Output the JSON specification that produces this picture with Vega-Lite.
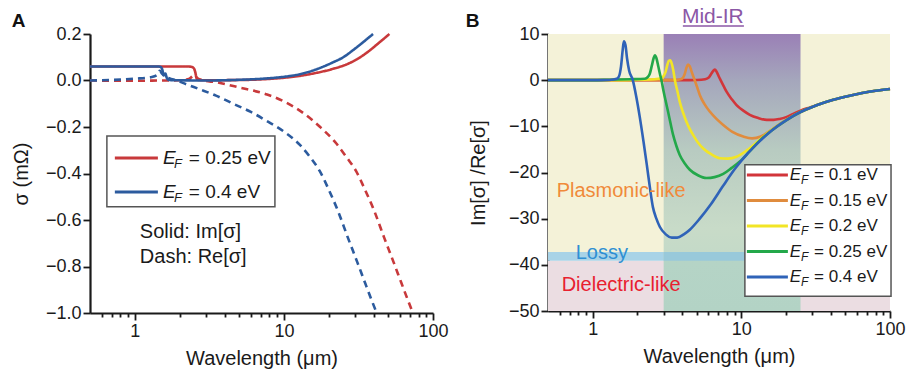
{
"$schema": "https://vega.github.io/schema/vega-lite/v6.json",
"background": "white",
"padding": {"left": 11, "top": 6, "right": 2, "bottom": 2},
"bounds": "flush",
"spacing": 115,
"resolve": {"scale": {"color": "independent"}},
"config": {
  "font": "Liberation Sans",
  "view": {"stroke": null},
  "axis": {"grid": false, "domainColor": "#1a1a1a", "domainWidth": 2.2, "tickColor": "#1a1a1a", "tickWidth": 1.8, "labelFont": "Liberation Sans", "labelFontSize": 18, "labelColor": "#1a1a1a", "titleFont": "Liberation Sans", "titleFontSize": 20, "titleFontWeight": "normal", "titleColor": "#1a1a1a", "labelFlush": false, "labelOverlap": false, "labelPadding": 2}
},
"datasets": {
  "fig_a": [
    {"ef":"0.25","part":"Im","wl":0.5,"s":0.06},{"ef":"0.25","part":"Im","wl":1,"s":0.06},{"ef":"0.25","part":"Im","wl":2,"s":0.06},{"ef":"0.25","part":"Im","wl":2.3,"s":0.06},{"ef":"0.25","part":"Im","wl":2.42,"s":0.058},{"ef":"0.25","part":"Im","wl":2.5,"s":0.05},{"ef":"0.25","part":"Im","wl":2.55,"s":0.032},{"ef":"0.25","part":"Im","wl":2.58,"s":0.016},{"ef":"0.25","part":"Im","wl":2.63,"s":0.003},{"ef":"0.25","part":"Im","wl":3,"s":0.001},{"ef":"0.25","part":"Im","wl":5,"s":0.002},{"ef":"0.25","part":"Im","wl":8,"s":0.007},{"ef":"0.25","part":"Im","wl":12.8,"s":0.02},{"ef":"0.25","part":"Im","wl":16,"s":0.031},{"ef":"0.25","part":"Im","wl":21.3,"s":0.05},{"ef":"0.25","part":"Im","wl":26,"s":0.068},{"ef":"0.25","part":"Im","wl":31,"s":0.092},{"ef":"0.25","part":"Im","wl":36,"s":0.12},{"ef":"0.25","part":"Im","wl":43,"s":0.16},{"ef":"0.25","part":"Im","wl":51,"s":0.2},
    {"ef":"0.25","part":"Re","wl":0.5,"s":0},{"ef":"0.25","part":"Re","wl":1,"s":-0.001},{"ef":"0.25","part":"Re","wl":1.5,"s":0},{"ef":"0.25","part":"Re","wl":2,"s":0.001},{"ef":"0.25","part":"Re","wl":2.3,"s":0.006},{"ef":"0.25","part":"Re","wl":2.45,"s":0.02},{"ef":"0.25","part":"Re","wl":2.52,"s":0.025},{"ef":"0.25","part":"Re","wl":2.6,"s":0.012},{"ef":"0.25","part":"Re","wl":2.8,"s":0.002},{"ef":"0.25","part":"Re","wl":3.55,"s":-0.008},{"ef":"0.25","part":"Re","wl":5,"s":-0.03},{"ef":"0.25","part":"Re","wl":7.7,"s":-0.06},{"ef":"0.25","part":"Re","wl":10,"s":-0.09},{"ef":"0.25","part":"Re","wl":13.5,"s":-0.14},{"ef":"0.25","part":"Re","wl":17.5,"s":-0.2},{"ef":"0.25","part":"Re","wl":22.4,"s":-0.27},{"ef":"0.25","part":"Re","wl":26.3,"s":-0.33},{"ef":"0.25","part":"Re","wl":30.5,"s":-0.39},{"ef":"0.25","part":"Re","wl":35,"s":-0.47},{"ef":"0.25","part":"Re","wl":40.3,"s":-0.56},{"ef":"0.25","part":"Re","wl":47.3,"s":-0.68},{"ef":"0.25","part":"Re","wl":54.3,"s":-0.78},{"ef":"0.25","part":"Re","wl":61.3,"s":-0.87},{"ef":"0.25","part":"Re","wl":67.4,"s":-0.94},{"ef":"0.25","part":"Re","wl":73.3,"s":-1},
    {"ef":"0.4","part":"Im","wl":0.5,"s":0.06},{"ef":"0.4","part":"Im","wl":1,"s":0.06},{"ef":"0.4","part":"Im","wl":1.45,"s":0.06},{"ef":"0.4","part":"Im","wl":1.5,"s":0.057},{"ef":"0.4","part":"Im","wl":1.53,"s":0.045},{"ef":"0.4","part":"Im","wl":1.56,"s":0.022},{"ef":"0.4","part":"Im","wl":1.6,"s":0.03},{"ef":"0.4","part":"Im","wl":1.64,"s":0.01},{"ef":"0.4","part":"Im","wl":1.7,"s":0.002},{"ef":"0.4","part":"Im","wl":2,"s":0.001},{"ef":"0.4","part":"Im","wl":3,"s":0},{"ef":"0.4","part":"Im","wl":5,"s":0.003},{"ef":"0.4","part":"Im","wl":7.7,"s":0.009},{"ef":"0.4","part":"Im","wl":10,"s":0.016},{"ef":"0.4","part":"Im","wl":12.8,"s":0.027},{"ef":"0.4","part":"Im","wl":16,"s":0.045},{"ef":"0.4","part":"Im","wl":21.3,"s":0.078},{"ef":"0.4","part":"Im","wl":25,"s":0.1},{"ef":"0.4","part":"Im","wl":29,"s":0.13},{"ef":"0.4","part":"Im","wl":34,"s":0.165},{"ef":"0.4","part":"Im","wl":39.6,"s":0.2},
    {"ef":"0.4","part":"Re","wl":0.5,"s":0},{"ef":"0.4","part":"Re","wl":0.8,"s":0.004},{"ef":"0.4","part":"Re","wl":1,"s":0.008},{"ef":"0.4","part":"Re","wl":1.3,"s":0.015},{"ef":"0.4","part":"Re","wl":1.42,"s":0.025},{"ef":"0.4","part":"Re","wl":1.47,"s":0.042},{"ef":"0.4","part":"Re","wl":1.52,"s":0.03},{"ef":"0.4","part":"Re","wl":1.6,"s":0.018},{"ef":"0.4","part":"Re","wl":1.7,"s":0.01},{"ef":"0.4","part":"Re","wl":1.91,"s":0},{"ef":"0.4","part":"Re","wl":2.23,"s":-0.017},{"ef":"0.4","part":"Re","wl":2.73,"s":-0.038},{"ef":"0.4","part":"Re","wl":3.5,"s":-0.065},{"ef":"0.4","part":"Re","wl":4.57,"s":-0.1},{"ef":"0.4","part":"Re","wl":6,"s":-0.135},{"ef":"0.4","part":"Re","wl":7.7,"s":-0.175},{"ef":"0.4","part":"Re","wl":10,"s":-0.22},{"ef":"0.4","part":"Re","wl":12.8,"s":-0.277},{"ef":"0.4","part":"Re","wl":15,"s":-0.33},{"ef":"0.4","part":"Re","wl":17.4,"s":-0.39},{"ef":"0.4","part":"Re","wl":20,"s":-0.47},{"ef":"0.4","part":"Re","wl":23,"s":-0.56},{"ef":"0.4","part":"Re","wl":27,"s":-0.68},{"ef":"0.4","part":"Re","wl":31,"s":-0.78},{"ef":"0.4","part":"Re","wl":35,"s":-0.87},{"ef":"0.4","part":"Re","wl":38.5,"s":-0.94},{"ef":"0.4","part":"Re","wl":41.9,"s":-1}
  ],
  "fig_b": [
    {"ef":"0.1","wl":0.5,"r":0},{"ef":"0.1","wl":2,"r":0},{"ef":"0.1","wl":4,"r":0},{"ef":"0.1","wl":5,"r":0.05},{"ef":"0.1","wl":5.7,"r":0.2},{"ef":"0.1","wl":6,"r":0.5},{"ef":"0.1","wl":6.25,"r":1.3},{"ef":"0.1","wl":6.5,"r":2.1},{"ef":"0.1","wl":6.65,"r":2.3},{"ef":"0.1","wl":6.85,"r":1.7},{"ef":"0.1","wl":7.05,"r":0.8},{"ef":"0.1","wl":7.25,"r":0},{"ef":"0.1","wl":7.6,"r":-1.3},{"ef":"0.1","wl":7.95,"r":-2.5},{"ef":"0.1","wl":8.6,"r":-4.1},{"ef":"0.1","wl":9.28,"r":-5.4},{"ef":"0.1","wl":10.3,"r":-6.6},{"ef":"0.1","wl":11.4,"r":-7.5},{"ef":"0.1","wl":13,"r":-8.2},{"ef":"0.1","wl":14.8,"r":-8.6},{"ef":"0.1","wl":16.5,"r":-8.6},{"ef":"0.1","wl":18.1,"r":-8.4},{"ef":"0.1","wl":20,"r":-8},{"ef":"0.1","wl":22.3,"r":-7.3},{"ef":"0.1","wl":25,"r":-6.6},{"ef":"0.1","wl":28.9,"r":-5.9},{"ef":"0.1","wl":35,"r":-5},{"ef":"0.1","wl":40,"r":-4.4},{"ef":"0.1","wl":50,"r":-3.6},{"ef":"0.1","wl":65,"r":-2.8},{"ef":"0.1","wl":80,"r":-2.3},{"ef":"0.1","wl":100,"r":-1.9},
    {"ef":"0.15","wl":0.5,"r":0},{"ef":"0.15","wl":2,"r":0},{"ef":"0.15","wl":3.5,"r":0},{"ef":"0.15","wl":3.9,"r":0.2},{"ef":"0.15","wl":4.06,"r":0.6},{"ef":"0.15","wl":4.18,"r":1.6},{"ef":"0.15","wl":4.28,"r":2.8},{"ef":"0.15","wl":4.38,"r":3.4},{"ef":"0.15","wl":4.5,"r":3},{"ef":"0.15","wl":4.62,"r":1.9},{"ef":"0.15","wl":4.75,"r":0.8},{"ef":"0.15","wl":4.85,"r":0},{"ef":"0.15","wl":5.05,"r":-1.6},{"ef":"0.15","wl":5.25,"r":-3.2},{"ef":"0.15","wl":5.65,"r":-5.2},{"ef":"0.15","wl":6.13,"r":-6.8},{"ef":"0.15","wl":6.8,"r":-8.4},{"ef":"0.15","wl":7.55,"r":-9.7},{"ef":"0.15","wl":8.7,"r":-11.2},{"ef":"0.15","wl":10.3,"r":-12.2},{"ef":"0.15","wl":11.8,"r":-12.6},{"ef":"0.15","wl":13.5,"r":-12.2},{"ef":"0.15","wl":15.2,"r":-11.2},{"ef":"0.15","wl":17.2,"r":-10},{"ef":"0.15","wl":20,"r":-8.6},{"ef":"0.15","wl":25,"r":-6.9},{"ef":"0.15","wl":30,"r":-5.8},{"ef":"0.15","wl":35,"r":-5},{"ef":"0.15","wl":40,"r":-4.4},{"ef":"0.15","wl":50,"r":-3.6},{"ef":"0.15","wl":65,"r":-2.8},{"ef":"0.15","wl":80,"r":-2.3},{"ef":"0.15","wl":100,"r":-1.9},
    {"ef":"0.2","wl":0.5,"r":0},{"ef":"0.2","wl":1.5,"r":0},{"ef":"0.2","wl":2,"r":0.1},{"ef":"0.2","wl":2.6,"r":0.2},{"ef":"0.2","wl":2.9,"r":0.4},{"ef":"0.2","wl":3,"r":0.9},{"ef":"0.2","wl":3.09,"r":1.8},{"ef":"0.2","wl":3.17,"r":3.2},{"ef":"0.2","wl":3.25,"r":4.2},{"ef":"0.2","wl":3.32,"r":4.3},{"ef":"0.2","wl":3.4,"r":3.6},{"ef":"0.2","wl":3.48,"r":2.2},{"ef":"0.2","wl":3.57,"r":0},{"ef":"0.2","wl":3.7,"r":-2.2},{"ef":"0.2","wl":3.85,"r":-4.7},{"ef":"0.2","wl":4.05,"r":-7},{"ef":"0.2","wl":4.27,"r":-9},{"ef":"0.2","wl":4.5,"r":-10.6},{"ef":"0.2","wl":4.74,"r":-11.9},{"ef":"0.2","wl":5.1,"r":-13.5},{"ef":"0.2","wl":5.54,"r":-14.8},{"ef":"0.2","wl":6.3,"r":-16.1},{"ef":"0.2","wl":7.17,"r":-16.9},{"ef":"0.2","wl":8.1,"r":-17},{"ef":"0.2","wl":9.28,"r":-16.6},{"ef":"0.2","wl":11,"r":-15.1},{"ef":"0.2","wl":13.3,"r":-12.9},{"ef":"0.2","wl":15.5,"r":-11.1},{"ef":"0.2","wl":18.1,"r":-9.6},{"ef":"0.2","wl":21,"r":-8.3},{"ef":"0.2","wl":25,"r":-6.9},{"ef":"0.2","wl":30,"r":-5.8},{"ef":"0.2","wl":35,"r":-5},{"ef":"0.2","wl":40,"r":-4.4},{"ef":"0.2","wl":50,"r":-3.6},{"ef":"0.2","wl":65,"r":-2.8},{"ef":"0.2","wl":80,"r":-2.3},{"ef":"0.2","wl":100,"r":-1.9},
    {"ef":"0.25","wl":0.5,"r":0},{"ef":"0.25","wl":1,"r":0},{"ef":"0.25","wl":1.3,"r":0.1},{"ef":"0.25","wl":1.8,"r":0.2},{"ef":"0.25","wl":2.24,"r":0.3},{"ef":"0.25","wl":2.35,"r":0.7},{"ef":"0.25","wl":2.42,"r":1.4},{"ef":"0.25","wl":2.5,"r":3.2},{"ef":"0.25","wl":2.57,"r":4.8},{"ef":"0.25","wl":2.62,"r":5.4},{"ef":"0.25","wl":2.68,"r":4.8},{"ef":"0.25","wl":2.76,"r":3},{"ef":"0.25","wl":2.83,"r":1.4},{"ef":"0.25","wl":2.9,"r":0},{"ef":"0.25","wl":2.97,"r":-1.8},{"ef":"0.25","wl":3.08,"r":-4.2},{"ef":"0.25","wl":3.21,"r":-6.8},{"ef":"0.25","wl":3.34,"r":-9.4},{"ef":"0.25","wl":3.47,"r":-11.8},{"ef":"0.25","wl":3.65,"r":-14.2},{"ef":"0.25","wl":3.85,"r":-16.2},{"ef":"0.25","wl":4.15,"r":-18},{"ef":"0.25","wl":4.5,"r":-19.4},{"ef":"0.25","wl":5.1,"r":-20.6},{"ef":"0.25","wl":5.83,"r":-21.2},{"ef":"0.25","wl":6.6,"r":-21},{"ef":"0.25","wl":7.55,"r":-20.3},{"ef":"0.25","wl":8.6,"r":-19},{"ef":"0.25","wl":9.77,"r":-17.6},{"ef":"0.25","wl":11.3,"r":-15.5},{"ef":"0.25","wl":13.3,"r":-13.1},{"ef":"0.25","wl":16,"r":-10.9},{"ef":"0.25","wl":20,"r":-8.7},{"ef":"0.25","wl":25,"r":-6.9},{"ef":"0.25","wl":30,"r":-5.8},{"ef":"0.25","wl":35,"r":-5},{"ef":"0.25","wl":40,"r":-4.4},{"ef":"0.25","wl":50,"r":-3.6},{"ef":"0.25","wl":65,"r":-2.8},{"ef":"0.25","wl":80,"r":-2.3},{"ef":"0.25","wl":100,"r":-1.9},
    {"ef":"0.4","wl":0.5,"r":0},{"ef":"0.4","wl":1,"r":0},{"ef":"0.4","wl":1.3,"r":0.05},{"ef":"0.4","wl":1.45,"r":0.3},{"ef":"0.4","wl":1.5,"r":0.8},{"ef":"0.4","wl":1.55,"r":3},{"ef":"0.4","wl":1.59,"r":6.5},{"ef":"0.4","wl":1.62,"r":8.4},{"ef":"0.4","wl":1.66,"r":7.6},{"ef":"0.4","wl":1.7,"r":4.8},{"ef":"0.4","wl":1.76,"r":2},{"ef":"0.4","wl":1.86,"r":0},{"ef":"0.4","wl":1.96,"r":-3.5},{"ef":"0.4","wl":2.07,"r":-7.9},{"ef":"0.4","wl":2.2,"r":-13.5},{"ef":"0.4","wl":2.31,"r":-18.3},{"ef":"0.4","wl":2.43,"r":-23.5},{"ef":"0.4","wl":2.54,"r":-27.5},{"ef":"0.4","wl":2.68,"r":-30},{"ef":"0.4","wl":2.83,"r":-31.8},{"ef":"0.4","wl":3.1,"r":-33.4},{"ef":"0.4","wl":3.4,"r":-34.1},{"ef":"0.4","wl":3.7,"r":-34.1},{"ef":"0.4","wl":4.1,"r":-33.4},{"ef":"0.4","wl":4.5,"r":-32.4},{"ef":"0.4","wl":5.25,"r":-30},{"ef":"0.4","wl":6.2,"r":-27},{"ef":"0.4","wl":7.5,"r":-23},{"ef":"0.4","wl":9,"r":-19.3},{"ef":"0.4","wl":11,"r":-15.9},{"ef":"0.4","wl":13.3,"r":-13.2},{"ef":"0.4","wl":16,"r":-10.9},{"ef":"0.4","wl":20,"r":-8.7},{"ef":"0.4","wl":25,"r":-6.9},{"ef":"0.4","wl":30,"r":-5.8},{"ef":"0.4","wl":35,"r":-5},{"ef":"0.4","wl":40,"r":-4.4},{"ef":"0.4","wl":50,"r":-3.6},{"ef":"0.4","wl":65,"r":-2.8},{"ef":"0.4","wl":80,"r":-2.3},{"ef":"0.4","wl":100,"r":-1.9}
  ],
  "leg_a": [{"ef":"0.25","label":"= 0.25 eV"},{"ef":"0.4","label":"= 0.4 eV"}],
  "leg_b": [{"ef":"0.1","label":"= 0.1 eV"},{"ef":"0.15","label":"= 0.15 eV"},{"ef":"0.2","label":"= 0.2 eV"},{"ef":"0.25","label":"= 0.25 eV"},{"ef":"0.4","label":"= 0.4 eV"}]
},
"hconcat": [
 {
  "width": 343, "height": 279,
  "resolve": {"scale": {"y": "independent"}},
  "layer": [
   {"layer": [
     {"data": {"name": "fig_a"},
      "mark": {"type": "line", "strokeWidth": 2.6, "interpolate": "monotone"},
      "encoding": {
        "x": {"field": "wl", "type": "quantitative", "scale": {"type": "log", "domain": [0.5, 100], "nice": false},
              "axis": {"title": "Wavelength (μm)", "titlePadding": 8, "values": [0.6,0.7,0.8,0.9,1,2,3,4,5,6,7,8,9,10,20,30,40,50,60,70,80,90,100], "labelExpr": "datum.value == 1 ? '1' : datum.value == 10 ? '10' : datum.value == 100 ? '100' : ''", "tickSize": {"condition": {"test": "datum.value == 1 || datum.value == 10 || datum.value == 100", "value": 7}, "value": 4}}},
        "y": {"field": "s", "type": "quantitative", "scale": {"domain": [-1, 0.2], "nice": false, "zero": false},
              "axis": {"title": "σ (mΩ)", "titlePadding": 14, "values": [-1,-0.9,-0.8,-0.7,-0.6,-0.5,-0.4,-0.3,-0.2,-0.1,0,0.1,0.2], "labelExpr": "abs(datum.value*5 - round(datum.value*5)) < 0.001 ? (datum.value < -0.001 ? '−' : '') + format(abs(datum.value), '.1f') : ''", "tickSize": {"condition": {"test": "abs(datum.value*5 - round(datum.value*5)) < 0.001", "value": 7}, "value": 4}}},
        "color": {"field": "ef", "type": "nominal", "scale": {"domain": ["0.25", "0.4"], "range": ["#c8393b", "#2c5b9e"]}, "legend": null},
        "strokeDash": {"field": "part", "type": "nominal", "scale": {"domain": ["Im", "Re"], "range": [[1, 0], [7, 5]]}, "legend": null}
      }},
     {"data": {"values": [{"item": "legend frame"}]},
      "mark": {"type": "rect", "fill": "white", "stroke": "#555555", "strokeWidth": 1.5},
      "encoding": {"x": {"datum": 0.649}, "x2": {"datum": 8.7}, "y": {"datum": -0.239}, "y2": {"datum": -0.543}}},
     {"data": {"values": [{"t": "Solid: Im[σ]"}]},
      "mark": {"type": "text", "align": "left", "baseline": "middle", "fontSize": 20, "color": "#1a1a1a"},
      "encoding": {"x": {"datum": 1.08}, "y": {"datum": -0.652}, "text": {"field": "t"}}},
     {"data": {"values": [{"t": "Dash: Re[σ]"}]},
      "mark": {"type": "text", "align": "left", "baseline": "middle", "fontSize": 20, "color": "#1a1a1a"},
      "encoding": {"x": {"datum": 1.08}, "y": {"datum": -0.761}, "text": {"field": "t"}}},
     {"data": {"values": [{"t": "A"}]},
      "mark": {"type": "text", "align": "left", "baseline": "middle", "fontSize": 19, "fontWeight": "bold", "color": "#111111"},
      "encoding": {"x": {"datum": 0.1494}, "y": {"datum": 0.256}, "text": {"field": "t"}}}
   ]},
   {"data": {"name": "leg_a"},
    "encoding": {"y": {"field": "ef", "type": "ordinal", "scale": {"type": "point", "domain": ["0.25", "0.4"], "range": [124, 158], "padding": 0}, "axis": null}},
    "layer": [
     {"mark": {"type": "rule", "strokeWidth": 3}, "encoding": {"x": {"datum": 0.734}, "x2": {"datum": 1.427}, "color": {"field": "ef", "type": "nominal", "legend": null}}},
     {"mark": {"type": "text", "text": "E", "fontStyle": "italic", "fontSize": 19, "align": "left", "baseline": "middle", "color": "#1a1a1a"}, "encoding": {"x": {"datum": 1.542}}},
     {"mark": {"type": "text", "text": "F", "fontStyle": "italic", "fontSize": 13, "align": "left", "baseline": "middle", "dy": 6, "color": "#1a1a1a"}, "encoding": {"x": {"datum": 1.827}}},
     {"mark": {"type": "text", "fontSize": 19, "align": "left", "baseline": "middle", "color": "#1a1a1a"}, "encoding": {"x": {"datum": 2.3}, "text": {"field": "label"}}}
    ]}
  ]
 },
 {
  "width": 342, "height": 277,
  "resolve": {"scale": {"y": "independent"}},
  "layer": [
   {"layer": [
     {"data": {"values": [{"region": "Plasmonic-like"}]},
      "mark": {"type": "rect", "fill": "#f4f2d8"},
      "encoding": {
        "x": {"datum": 0.5, "type": "quantitative", "scale": {"type": "log", "domain": [0.5, 100], "nice": false},
              "axis": {"title": "Wavelength (μm)", "titlePadding": 8, "values": [0.6,0.7,0.8,0.9,1,2,3,4,5,6,7,8,9,10,20,30,40,50,60,70,80,90,100], "labelExpr": "datum.value == 1 ? '1' : datum.value == 10 ? '10' : datum.value == 100 ? '100' : ''", "tickSize": {"condition": {"test": "datum.value == 1 || datum.value == 10 || datum.value == 100", "value": 7}, "value": 4}}},
        "x2": {"datum": 100},
        "y": {"datum": 10, "type": "quantitative", "scale": {"domain": [-50, 10], "nice": false, "zero": false},
              "axis": {"title": "Im[σ] /Re[σ]", "titlePadding": 20, "values": [-50,-45,-40,-35,-30,-25,-20,-15,-10,-5,0,5,10], "labelExpr": "datum.value % 10 == 0 ? (datum.value < 0 ? '−' + abs(datum.value) : '' + datum.value) : ''", "tickSize": {"condition": {"test": "datum.value % 10 == 0", "value": 7}, "value": 4}}},
        "y2": {"datum": -37.2}
      }},
     {"data": {"values": [{"region": "Dielectric-like"}]},
      "mark": {"type": "rect", "fill": "#ebdde2"},
      "encoding": {"x": {"datum": 0.5}, "x2": {"datum": 100}, "y": {"datum": -39.1}, "y2": {"datum": -50}}},
     {"data": {"values": [{"region": "Lossy"}]},
      "mark": {"type": "rect", "fill": "#a8d3e7"},
      "encoding": {"x": {"datum": 0.5}, "x2": {"datum": 100}, "y": {"datum": -37.2}, "y2": {"datum": -39.1}}},
     {"data": {"values": [{"region": "Mid-IR"}]},
      "mark": {"type": "rect", "fill": {"gradient": "linear", "x1": 0, "y1": 0, "x2": 0, "y2": 1, "stops": [{"offset": 0, "color": "#9a80b6"}, {"offset": 0.17, "color": "#a5a7bc"}, {"offset": 0.42, "color": "#b8cbc1"}, {"offset": 0.7, "color": "#c8dbc8"}, {"offset": 0.79, "color": "#c4dac8"}, {"offset": 0.82, "color": "#b5d4c6"}, {"offset": 1, "color": "#b3d3c5"}]}},
      "encoding": {"x": {"datum": 3}, "x2": {"datum": 25}, "y": {"datum": 10}, "y2": {"datum": -50}}},
     {"data": {"values": [{"region": "Lossy, Mid-IR"}]},
      "mark": {"type": "rect", "fill": "#98c9da"},
      "encoding": {"x": {"datum": 3}, "x2": {"datum": 25}, "y": {"datum": -37.2}, "y2": {"datum": -39.1}}},
     {"data": {"name": "fig_b"},
      "mark": {"type": "line", "strokeWidth": 2.6, "interpolate": "monotone"},
      "encoding": {
        "x": {"field": "wl", "type": "quantitative"},
        "y": {"field": "r", "type": "quantitative"},
        "color": {"field": "ef", "type": "nominal", "scale": {"domain": ["0.1", "0.15", "0.2", "0.25", "0.4"], "range": ["#d2353a", "#e08c3e", "#f2e526", "#23a84a", "#2f63b8"]}, "legend": null}
      }},
     {"data": {"values": [{"t": "Plasmonic-like"}]},
      "mark": {"type": "text", "align": "left", "baseline": "middle", "fontSize": 20, "color": "#f08a3a"},
      "encoding": {"x": {"datum": 0.572}, "y": {"datum": -23.9}, "text": {"field": "t"}}},
     {"data": {"values": [{"t": "Lossy"}]},
      "mark": {"type": "text", "align": "left", "baseline": "middle", "fontSize": 20, "color": "#2f8fd3"},
      "encoding": {"x": {"datum": 0.768}, "y": {"datum": -37.5}, "text": {"field": "t"}}},
     {"data": {"values": [{"t": "Dielectric-like"}]},
      "mark": {"type": "text", "align": "left", "baseline": "middle", "fontSize": 20, "color": "#e8202f"},
      "encoding": {"x": {"datum": 0.618}, "y": {"datum": -44.4}, "text": {"field": "t"}}},
     {"data": {"values": [{"t": "Mid-IR"}]},
      "mark": {"type": "text", "align": "center", "baseline": "middle", "fontSize": 21, "color": "#8b57a6"},
      "encoding": {"x": {"datum": 6.43}, "y": {"datum": 13.68}, "text": {"field": "t"}}},
     {"data": {"values": [{"t": "Mid-IR underline"}]},
      "mark": {"type": "rule", "strokeWidth": 1.5, "color": "#8b57a6"},
      "encoding": {"x": {"datum": 4.04}, "x2": {"datum": 10.4}, "y": {"datum": 11.73}}},
     {"data": {"values": [{"t": "B"}]},
      "mark": {"type": "text", "align": "left", "baseline": "middle", "fontSize": 19, "fontWeight": "bold", "color": "#111111"},
      "encoding": {"x": {"datum": 0.1396}, "y": {"datum": 12.82}, "text": {"field": "t"}}},
     {"data": {"values": [{"item": "legend frame"}]},
      "mark": {"type": "rect", "fill": "white", "stroke": "#555555", "strokeWidth": 1.5},
      "encoding": {"x": {"datum": 10.56}, "x2": {"datum": 101.6}, "y": {"datum": -18.3}, "y2": {"datum": -46.8}}}
   ]},
   {"data": {"name": "leg_b"},
    "encoding": {"y": {"field": "ef", "type": "ordinal", "scale": {"type": "point", "domain": ["0.1", "0.15", "0.2", "0.25", "0.4"], "range": [141, 243], "padding": 0}, "axis": null}},
    "layer": [
     {"mark": {"type": "rule", "strokeWidth": 3}, "encoding": {"x": {"datum": 10.89}, "x2": {"datum": 20.56}, "color": {"field": "ef", "type": "nominal", "legend": null}}},
     {"mark": {"type": "text", "text": "E", "fontStyle": "italic", "fontSize": 17, "align": "left", "baseline": "middle", "color": "#1a1a1a"}, "encoding": {"x": {"datum": 21.2}}},
     {"mark": {"type": "text", "text": "F", "fontStyle": "italic", "fontSize": 12, "align": "left", "baseline": "middle", "dy": 5, "color": "#1a1a1a"}, "encoding": {"x": {"datum": 25.2}}},
     {"mark": {"type": "text", "fontSize": 17, "align": "left", "baseline": "middle", "color": "#1a1a1a"}, "encoding": {"x": {"datum": 30.8}, "text": {"field": "label"}}}
    ]}
  ]
 }
]
}
